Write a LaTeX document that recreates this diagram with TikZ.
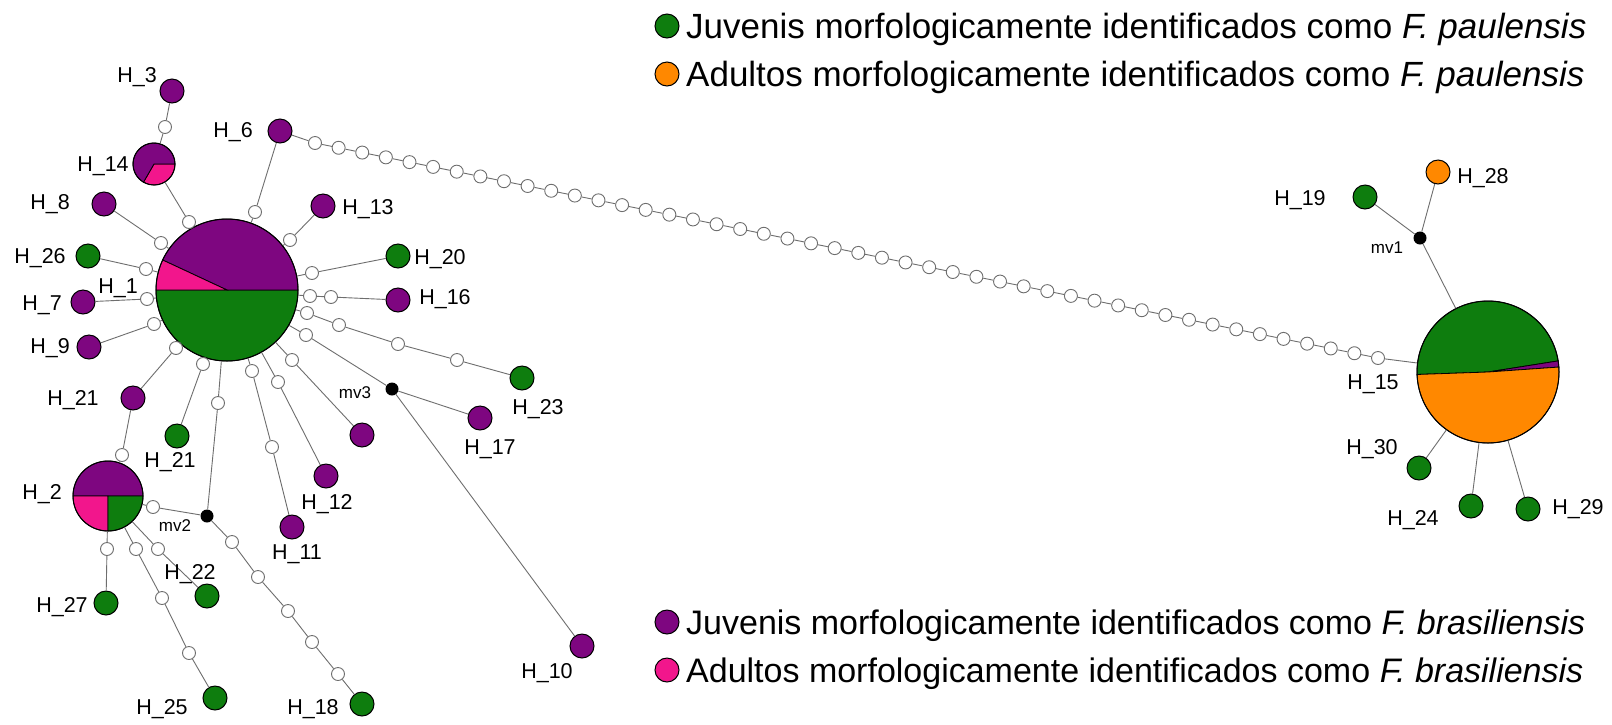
\documentclass[tikz,border=0pt]{standalone}
\usepackage{fontspec}
\setmainfont{Liberation Sans}
\usetikzlibrary{calc}
\definecolor{cgreen}{RGB}{14,125,14}
\definecolor{cpurple}{RGB}{126,6,128}
\definecolor{cpink}{RGB}{242,22,140}
\definecolor{corange}{RGB}{255,136,0}
\definecolor{cedge}{RGB}{110,110,110}
\newcommand\myslice[5]{\filldraw[fill=#5,draw=black,line width=0.8pt] (#1) -- ++(#2:#4) arc[start angle=#2,end angle=#3,radius=#4] -- cycle;}
\begin{document}
\begin{tikzpicture}[x=1pt,y=-1pt,
  hap/.style={circle,draw=black,line width=1pt,minimum size=24pt,inner sep=0pt},
  pienode/.style={circle,draw=black,line width=1pt,inner sep=0pt},
  mut/.style={circle,draw=cedge,fill=white,line width=0.9pt,minimum size=13pt,inner sep=0pt},
  mvn/.style={circle,fill=black,minimum size=13pt,inner sep=0pt},
  lab/.style={font=\fontsize{21.5}{21.5}\selectfont,inner sep=0pt,anchor=base},
  mvlab/.style={font=\fontsize{17}{17}\selectfont,inner sep=0pt,anchor=base},
  legtxt/.style={font=\fontsize{35}{35}\selectfont,inner sep=0pt,anchor=base west},
  edge/.style={draw=cedge,line width=0.9pt}]
\useasboundingbox (0,0) rectangle (1612,724);
\fill[white] (0,0) rectangle (1612,724);

% ---------- pie charts ----------
\coordinate (c1) at (227,290);
\myslice{c1}{0}{180}{71}{cgreen}
\myslice{c1}{-155}{0}{71}{cpurple}
\myslice{c1}{-180}{-155}{71}{cpink}
\node[pienode,minimum size=142pt] (H1) at (c1) {};

\coordinate (c14) at (154,164);
\myslice{c14}{0}{120}{21}{cpink}
\myslice{c14}{120}{360}{21}{cpurple}
\node[pienode,minimum size=42pt] (H14) at (c14) {};

\coordinate (c2) at (108,496);
\myslice{c2}{-180}{0}{35}{cpurple}
\myslice{c2}{90}{180}{35}{cpink}
\myslice{c2}{0}{90}{35}{cgreen}
\node[pienode,minimum size=70pt] (H2) at (c2) {};

\coordinate (c15) at (1488,372);
\myslice{c15}{-182}{-9}{71}{cgreen}
\myslice{c15}{-9}{-4}{71}{cpurple}
\myslice{c15}{-4}{178}{71}{corange}
\node[pienode,minimum size=142pt] (H15) at (c15) {};

% ---------- haplotypes ----------
\node[hap,fill=cpurple] (H3) at (172,91) {};
\node[hap,fill=cpurple] (H6) at (280,131) {};
\node[hap,fill=cpurple] (H8) at (104,204) {};
\node[hap,fill=cpurple] (H13) at (323,206) {};
\node[hap,fill=cgreen] (H26) at (88,256) {};
\node[hap,fill=cgreen] (H20) at (398,256) {};
\node[hap,fill=cpurple] (H7) at (83,302) {};
\node[hap,fill=cpurple] (H16) at (398,300) {};
\node[hap,fill=cpurple] (H9) at (89,347) {};
\node[hap,fill=cpurple] (H21p) at (133,398) {};
\node[hap,fill=cgreen] (H21g) at (177,436) {};
\node[hap,fill=cpurple] (Hx) at (362,435) {};
\node[hap,fill=cpurple] (H12) at (326,476) {};
\node[hap,fill=cpurple] (H11) at (292,527) {};
\node[hap,fill=cgreen] (H23) at (522,378) {};
\node[hap,fill=cpurple] (H17) at (480,418) {};
\node[hap,fill=cpurple] (H10) at (582,646) {};
\node[hap,fill=cgreen] (H18) at (362,704) {};
\node[hap,fill=cgreen] (H27) at (106,603) {};
\node[hap,fill=cgreen] (H25) at (215,698) {};
\node[hap,fill=cgreen] (H22) at (207,596) {};
\node[hap,fill=corange] (H28) at (1438,172) {};
\node[hap,fill=cgreen] (H19) at (1365,197) {};
\node[hap,fill=cgreen] (H30) at (1419,468) {};
\node[hap,fill=cgreen] (H24) at (1471,506) {};
\node[hap,fill=cgreen] (H29) at (1528,509) {};

\node[mvn] (mv1) at (1420,238) {};
\node[mvn] (mv2) at (207,516) {};
\node[mvn] (mv3) at (392,389) {};

% ---------- mutation steps ----------
\foreach \n/\x/\y in {1/165/127,2/189/222,3/255/212,4/161/243,5/290/240,6/146/269,
  7/312/273,8/147/299,9/310/296,10/331/297,11/154/324,12/176/348,13/203/364,
  14/252/371,15/272/447,16/278/382,17/292/360,18/306/335,19/307/313,20/339/325,
  21/398/344,22/457/360,23/218/403,24/153/507,25/232/542,26/258/577,27/288/611,
  28/312/642,29/338/674,30/122/455,31/107/549,32/136/549,33/162/598,34/189/653,35/158/549}
  {\node[mut] (s\n) at (\x,\y) {};}

\coordinate (ca) at (315,143);
\coordinate (cb) at (1378,358);
\foreach \i in {1,...,46}{\node[mut] (m\i) at ($(ca)!{(\i-1)/45}!(cb)$) {};}

% ---------- connectors ----------
\draw[edge] (H3) -- (s1) -- (H14);
\draw[edge] (H14) -- (s2) -- (H1);
\draw[edge] (H6) -- (s3) -- (H1);
\draw[edge] (H8) -- (s4) -- (H1);
\draw[edge] (H13) -- (s5) -- (H1);
\draw[edge] (H26) -- (s6) -- (H1);
\draw[edge] (H20) -- (s7) -- (H1);
\draw[edge] (H7) -- (s8) -- (H1);
\draw[edge] (H1) -- (s9) -- (s10) -- (H16);
\draw[edge] (H9) -- (s11) -- (H1);
\draw[edge] (H21p) -- (s12) -- (H1);
\draw[edge] (H21g) -- (s13) -- (H1);
\draw[edge] (H1) -- (s14) -- (s15) -- (H11);
\draw[edge] (H1) -- (s16) -- (H12);
\draw[edge] (H1) -- (s17) -- (Hx);
\draw[edge] (H1) -- (s18) -- (mv3);
\draw[edge] (H1) -- (s19) -- (s20) -- (s21) -- (s22) -- (H23);
\draw[edge] (mv3) -- (H17);
\draw[edge] (mv3) -- (H10);
\draw[edge] (H1) -- (s23) -- (mv2);
\draw[edge] (H2) -- (s24) -- (mv2);
\draw[edge] (mv2) -- (s25) -- (s26) -- (s27) -- (s28) -- (s29) -- (H18);
\draw[edge] (H21p) -- (s30) -- (H2);
\draw[edge] (H2) -- (s31) -- (H27);
\draw[edge] (H2) -- (s32) -- (s33) -- (s34) -- (H25);
\draw[edge] (H2) -- (s35) -- (H22);
\draw[edge] (H6) -- (m1);
\foreach \i [evaluate=\i as \j using int(\i+1)] in {1,...,45}{\draw[edge] (m\i) -- (m\j);}
\draw[edge] (m46) -- (H15);
\draw[edge] (H15) -- (mv1);
\draw[edge] (mv1) -- (H19);
\draw[edge] (mv1) -- (H28);
\draw[edge] (H15) -- (H30);
\draw[edge] (H15) -- (H24);
\draw[edge] (H15) -- (H29);

% ---------- labels ----------
\node[lab] (lH3) at (137,82.5) {H\_3};
\node[lab] (lH14) at (103,171.5) {H\_14};
\node[lab] (lH6) at (233,137.5) {H\_6};
\node[lab] (lH8) at (50,209.5) {H\_8};
\node[lab] (lH13) at (368,214.5) {H\_13};
\node[lab] (lH26) at (40,263.5) {H\_26};
\node[lab] (lH1) at (118,293.5) {H\_1};
\node[lab] (lH20) at (440,264.5) {H\_20};
\node[lab] (lH7) at (42,310.5) {H\_7};
\node[lab] (lH16) at (445,304.5) {H\_16};
\node[lab] (lH9) at (50,353.5) {H\_9};
\node[lab] (lH21p) at (73,405.5) {H\_21};
\node[lab] (lH21g) at (170,467.5) {H\_21};
\node[lab] (lH2) at (42,499.5) {H\_2};
\node[lab] (lH27) at (62,612.5) {H\_27};
\node[lab] (lH25) at (162,714.5) {H\_25};
\node[lab] (lH22) at (190,579.5) {H\_22};
\node[lab] (lH18) at (313,714.5) {H\_18};
\node[lab] (lH12) at (327,509.5) {H\_12};
\node[lab] (lH11) at (297,559.5) {H\_11};
\node[lab] (lH17) at (490,454.5) {H\_17};
\node[lab] (lH23) at (538,414.5) {H\_23};
\node[lab] (lH10) at (547,678.5) {H\_10};
\node[lab] (lH19) at (1300,205.5) {H\_19};
\node[lab] (lH28) at (1483,183.5) {H\_28};
\node[lab] (lH15) at (1373,389.5) {H\_15};
\node[lab] (lH30) at (1372,454.5) {H\_30};
\node[lab] (lH24) at (1413,525.5) {H\_24};
\node[lab] (lH29) at (1578,514.5) {H\_29};
\node[mvlab] (lmv1) at (1387,253) {mv1};
\node[mvlab] (lmv2) at (175,531) {mv2};
\node[mvlab] (lmv3) at (355,398) {mv3};

% ---------- legend ----------
\node[hap,fill=cgreen] (L1) at (667,26) {};
\node[hap,fill=corange] (L2) at (667,74) {};
\node[hap,fill=cpurple] (L3) at (667,622) {};
\node[hap,fill=cpink] (L4) at (667,670) {};
\node[legtxt] (T1) at (686,38) {Juvenis morfologicamente identificados como \textit{F. paulensis}};
\node[legtxt] (T2) at (686,86) {Adultos morfologicamente identificados como \textit{F. paulensis}};
\node[legtxt,font=\fontsize{34}{34}\selectfont] (T3) at (686,634) {Juvenis morfologicamente identificados como \textit{F. brasiliensis}};
\node[legtxt,font=\fontsize{34}{34}\selectfont] (T4) at (686,682) {Adultos morfologicamente identificados como \textit{F. brasiliensis}};
\end{tikzpicture}
\end{document}
